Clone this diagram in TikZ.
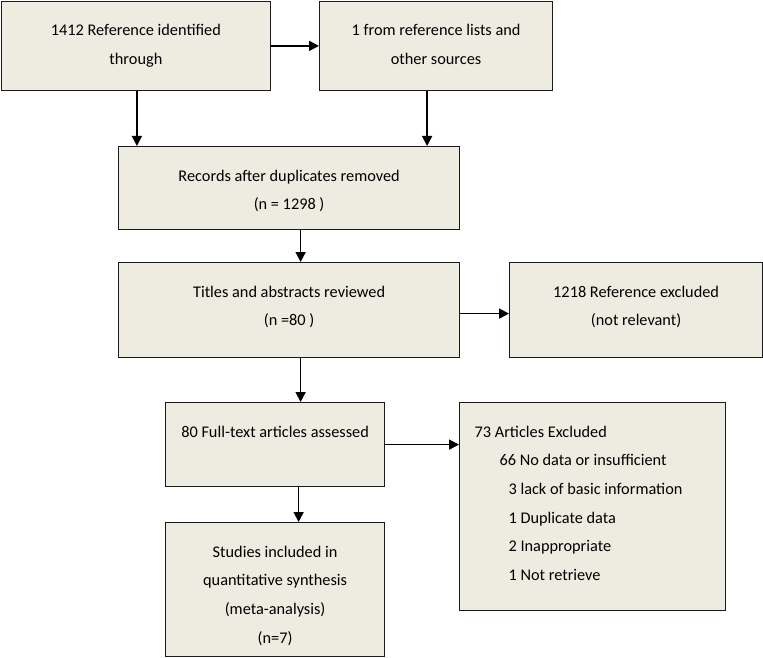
\documentclass[tikz,border=0pt]{standalone}
\usepackage{fontspec}
\setmainfont{Carlito}
\usepackage{tikz}
\usetikzlibrary{shapes,arrows.meta}
\definecolor{boxfill}{HTML}{EEECE1}
\definecolor{boxline}{HTML}{1A1A1A}
\tikzstyle{stage}=[draw=boxline, line width=1.2pt, fill=boxfill, inner sep=0pt, anchor=north west, font=\fontsize{16.3}{28.7}\selectfont, text=black]
\tikzstyle{flow}=[line width=1.7pt, -{Triangle[length=10pt,width=10pt]}]
\newcommand{\stagetext}[3]{\parbox[t][#2][t]{#1}{\centering\rule{0pt}{34.5pt}#3}}

\begin{document}
\begin{tikzpicture}[x=1pt,y=-1pt]
\useasboundingbox (0,0) rectangle (763,658);
\node[stage] (id) at (0.8,0.8) {\stagetext{269pt}{89pt}{1412 Reference identified\\through}};
\node[stage] (other) at (319,0.8) {\stagetext{233pt}{89pt}{1 from reference lists and\\other sources}};
\node[stage] (dup) at (118,146) {\stagetext{341pt}{83pt}{Records after duplicates removed\\(n = 1298 )}};
\node[stage] (screen) at (118,262) {\stagetext{341pt}{95pt}{Titles and abstracts reviewed\\(n =80 )}};
\node[stage] (excl) at (509,262) {\stagetext{253pt}{95pt}{1218 Reference excluded\\(not relevant)}};
\node[stage] (full) at (165,402) {\stagetext{219pt}{84pt}{80 Full-text articles assessed}};
\node[stage] (incl) at (165,522) {\stagetext{219pt}{134pt}{Studies included in\\quantitative synthesis\\(meta-analysis)\\(n=7)}};
\node[stage] (artexcl) at (459,402) {\parbox[t][208pt][t]{266pt}{\raggedright\rule{0pt}{34.5pt}\hspace*{15pt}73 Articles Excluded\\
\hspace*{40pt}66 No data or insufficient\\
\hspace*{49pt}3 lack of basic information\\
\hspace*{49pt}1 Duplicate data\\
\hspace*{49pt}2 Inappropriate\\
\hspace*{49pt}1 Not retrieve}};
\draw[flow] (id.east) -- (other.west);
\draw[flow] ([xshift=1pt]id.south) -- ([xshift=1pt]id.south |- dup.north);
\draw[flow] ([xshift=-9pt]other.south) -- ([xshift=-9pt]other.south |- dup.north);
\draw[flow] ([xshift=11.5pt]dup.south) -- ([xshift=11.5pt]dup.south |- screen.north);
\draw[flow] ([yshift=-3.5pt]screen.east) -- ([yshift=-3.5pt]screen.east -| excl.west);
\draw[flow] ([xshift=11.5pt]screen.south) -- ([xshift=11.5pt]screen.south |- full.north);
\draw[flow] (full.east) -- (full.east -| artexcl.west);
\draw[flow] ([xshift=23.5pt]full.south) -- ([xshift=23.5pt]full.south |- incl.north);
\end{tikzpicture}
\end{document}
